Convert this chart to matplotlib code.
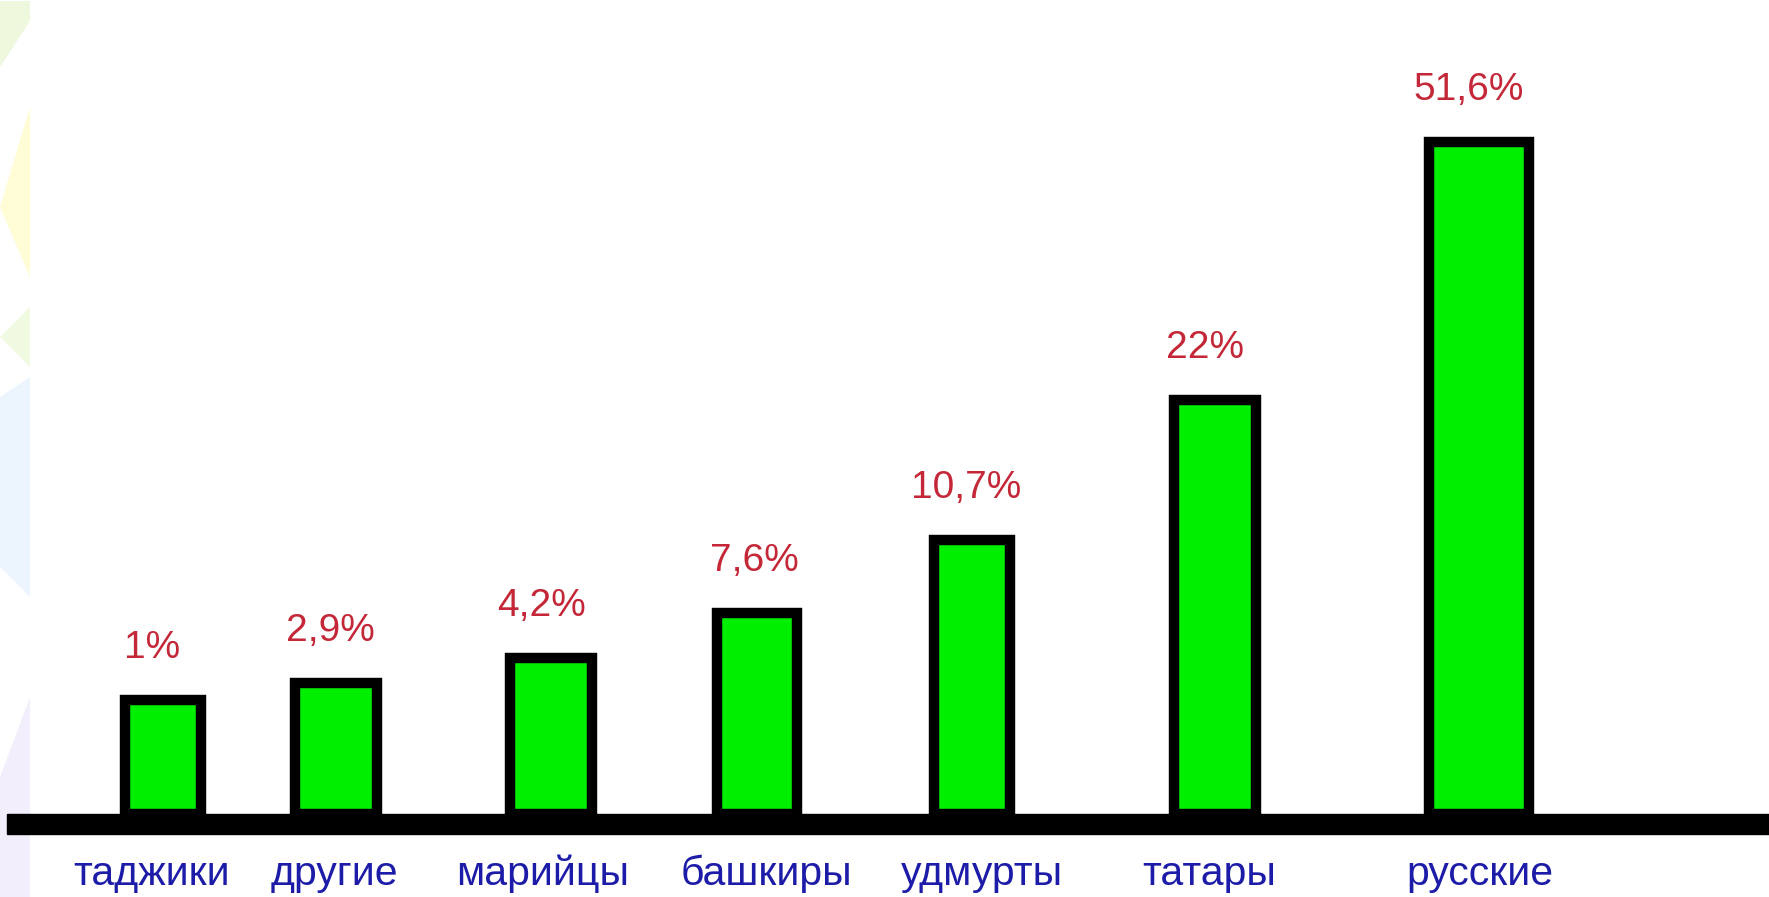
import matplotlib.pyplot as plt
from matplotlib.patches import Polygon

# data
groups = ['таджики', 'другие', 'марийцы', 'башкиры', 'удмурты', 'татары', 'русские']
shares = ['1%', '2,9%', '4,2%', '7,6%', '10,7%', '22%', '51,6%']
# drawn bar heights (the source chart is not to scale), in pixels above the axis line
heights = [114, 131, 156, 201, 274, 414, 672]

# layout (pixel units)
xpos = [163, 336, 551, 757, 972, 1215, 1479]
widths = [76, 82, 82, 80, 76, 82, 100]
label_x = [152, 330, 541, 754, 966, 1205, 1469]
name_x = [152, 334, 543, 766, 982, 1209, 1480]

font = ['Liberation Sans', 'DejaVu Sans']

fig = plt.figure(figsize=(17.69, 8.97), dpi=100)
ax = fig.add_axes([0, 0, 1, 1])
ax.set_xlim(0, 1769)
ax.set_ylim(-83, 814)
ax.axis('off')

# faint background decoration on the left edge
for pts, col in [([(0, 830), (0, 896), (30, 896), (30, 876)], '#eef8dc'),
                 ([(0, 690), (30, 790), (30, 620)], '#fffcd6'),
                 ([(0, 560), (30, 590), (30, 530)], '#f0fae0'),
                 ([(0, 0), (0, 120), (30, 200), (30, 0)], '#f3eefc'),
                 ([(0, 330), (0, 500), (30, 520), (30, 300)], '#ecf5fd')]:
    fig.add_artist(Polygon([(x / 1769, y / 897) for x, y in pts], closed=True,
                           transform=fig.transFigure, facecolor=col, edgecolor='none', zorder=0))

# thick axis line
ax.axhspan(-20, 0, xmin=7 / 1769, xmax=1, color='black', zorder=2)

ax.bar(xpos, heights, width=widths, bottom=0, color='#00ee00',
       edgecolor='black', linewidth=7.5, zorder=3)

for lx, h, s in zip(label_x, heights, shares):
    ax.text(lx, h + 52, s, ha='center', va='center', color='#c42838',
            fontsize=28, family=font)

for nx, g in zip(name_x, groups):
    ax.text(nx, -60, g, ha='center', va='center', color='#1c1ca8',
            fontsize=29.5, family=font)

fig.savefig('out.png', dpi=100)
